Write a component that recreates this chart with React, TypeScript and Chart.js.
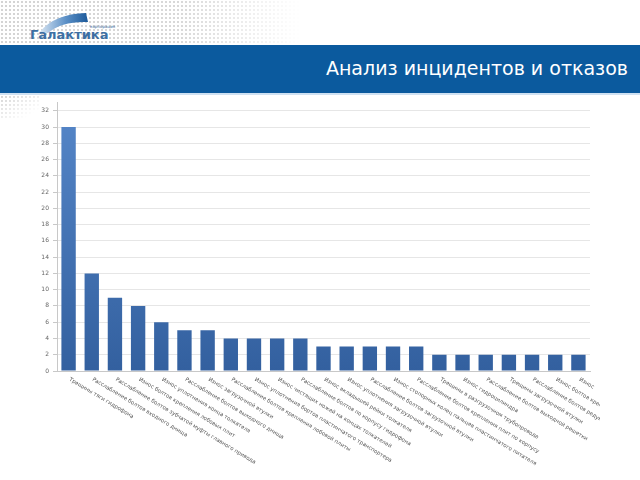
import React, { useEffect, useRef } from "react";
import { Chart, registerables } from "chart.js";

Chart.register(...registerables);

const TITLE = "Анализ инцидентов и отказов";

const categories: string[] = [
  "Трещины тяги гидрофона",
  "Расслабление болтов входного днища",
  "Расслабление болтов зубчатой муфты главного привода",
  "Износ болтов крепления лобовых плит",
  "Износ уплотнения конца толкателя",
  "Расслабление болтов выходного днища",
  "Износ загрузочной втулки",
  "Расслабление болтов крепления лобовой плиты",
  "Износ уплотнения бортов пластинчатого транспортера",
  "Износ чистящих ножей на концах толкателей",
  "Расслабление болтов по корпусу гидрофона",
  "Износ вкладышей рейки толкателя",
  "Износ уплотнения загрузочной втулки",
  "Расслабление болтов загрузочной втулки",
  "Износ стопорных колец пальцев пластинчатого питателя",
  "Расслабление болтов крепления плит по корпусу",
  "Трещины в разгрузочном трубопроводе",
  "Износ гидроцилиндра",
  "Расслабление болтов выходной решетки",
  "Трещины загрузочной втулки",
  "Расслабление болтов редуктора",
  "Износ болтов крепления",
  "Износ",
];

const incidents: number[] = [30, 12, 9, 8, 6, 5, 5, 4, 4, 4, 4, 3, 3, 3, 3, 3, 2, 2, 2, 2, 2, 2, 2];

const yTicks: number[] = [0, 2, 4, 6, 8, 10, 12, 14, 16, 18, 20, 22, 24, 26, 28, 30, 32];

const rotatedLabels = {
  id: "rotatedLabels",
  afterDraw(chart: any) {
    const ctx = chart.ctx;
    const xs = chart.scales.x;
    const area = chart.chartArea;
    ctx.save();
    ctx.beginPath();
    ctx.rect(0, 0, 600, chart.height);
    ctx.clip();
    ctx.font = "5.4px 'DejaVu Sans', sans-serif";
    ctx.fillStyle = "#555";
    ctx.textAlign = "left";
    ctx.textBaseline = "middle";
    categories.forEach((lab, i) => {
      const x = xs.getPixelForValue(i);
      ctx.save();
      ctx.translate(x + 1, area.bottom + 8);
      ctx.rotate((31 * Math.PI) / 180);
      ctx.fillText(lab, 0, 0);
      ctx.restore();
    });
    ctx.restore();
  },
};

function Logo() {
  return (
    <div style={{ position: "absolute", left: 28, top: 8, width: 100, height: 36 }}>
      <svg width="100" height="36" style={{ position: "absolute", left: 0, top: 0 }}>
        <defs>
          <linearGradient id="sw" x1="0" y1="0" x2="1" y2="0">
            <stop offset="0" stopColor="#d6e4f2" />
            <stop offset="0.55" stopColor="#5a8fc6" />
            <stop offset="1" stopColor="#1d5a9a" />
          </linearGradient>
        </defs>
        <path d="M12 24 Q 26 6 58 5 L 60 14 Q 34 13 20 25 Z" fill="url(#sw)" />
      </svg>
      <div
        style={{
          position: "absolute",
          left: 62,
          top: 16,
          fontSize: 4,
          color: "#3a6a9a",
          fontFamily: "'DejaVu Sans', sans-serif",
        }}
      >
        корпорация
      </div>
      <div
        style={{
          position: "absolute",
          left: 2,
          top: 19,
          fontSize: 13,
          fontWeight: "bold",
          color: "#3d6fa3",
          fontFamily: "'DejaVu Sans', sans-serif",
        }}
      >
        Галактика
      </div>
    </div>
  );
}

export default function App() {
  const ref = useRef<HTMLCanvasElement | null>(null);

  useEffect(() => {
    document.body.style.margin = "0";
    const canvas = ref.current!;
    const chart = new Chart(canvas, {
      type: "bar",
      data: {
        labels: categories,
        datasets: [
          {
            label: "Инциденты",
            data: incidents,
            backgroundColor: (c: any) => {
              const ca = c.chart.chartArea;
              if (!ca) return "#3f6fb0";
              const g = c.chart.ctx.createLinearGradient(0, ca.top, 0, ca.bottom);
              g.addColorStop(0, "#5687c9");
              g.addColorStop(1, "#33609f");
              return g;
            },
            borderWidth: 0,
            barPercentage: 0.62,
            categoryPercentage: 1,
          },
        ],
      },
      options: {
        animation: false,
        responsive: false,
        maintainAspectRatio: false,
        layout: { padding: { left: 8, right: 50, top: 6, bottom: 109 } },
        plugins: { legend: { display: false }, tooltip: { enabled: false } },
        scales: {
          x: {
            type: "category",
            grid: { display: false },
            border: { display: true, color: "#c8c8c8" },
            ticks: { display: false },
            afterFit: (s: any) => {
              s.height = 0;
            },
          },
          y: {
            min: 0,
            max: 33,
            afterBuildTicks: (s: any) => {
              s.ticks = yTicks.map((v) => ({ value: v }));
            },
            afterFit: (s: any) => {
              s.width = 49;
            },
            grid: { color: "#e6e6e6", tickLength: 4, tickColor: "#c8c8c8" },
            border: { display: true, color: "#c8c8c8" },
            ticks: {
              padding: 4,
              color: "#666",
              font: { size: 6, family: "'DejaVu Sans', sans-serif" },
            },
          },
        },
      },
      plugins: [rotatedLabels],
    });
    return () => chart.destroy();
  }, []);

  const dots = "radial-gradient(circle, #d4d4d4 1px, transparent 1.3px) 0 0 / 4px 4px";

  return (
    <div style={{ position: "absolute", left: 0, top: 0, width: 640, height: 480, background: "#fff", overflow: "hidden" }}>
      <div
        style={{
          position: "absolute",
          left: 0,
          top: 0,
          width: 300,
          height: 44,
          background: dots,
          WebkitMaskImage: "linear-gradient(to right, rgba(0,0,0,1) 0%, rgba(0,0,0,0.9) 60%, rgba(0,0,0,0) 100%)",
          maskImage: "linear-gradient(to right, rgba(0,0,0,1) 0%, rgba(0,0,0,0.9) 60%, rgba(0,0,0,0) 100%)",
        }}
      />
      <Logo />
      <div style={{ position: "absolute", left: 0, top: 45, width: 640, height: 48, background: "#0b5a9e" }}>
        <div
          style={{
            position: "absolute",
            right: 12,
            top: 12,
            color: "#fff",
            fontSize: 19,
            fontFamily: "'DejaVu Sans', sans-serif",
            whiteSpace: "nowrap",
          }}
        >
          {TITLE}
        </div>
      </div>
      <div style={{ position: "absolute", left: 0, top: 93, width: 640, height: 2, background: "#cfe1f2" }} />
      <div
        style={{
          position: "absolute",
          left: 0,
          top: 95,
          width: 40,
          height: 24,
          background: dots,
          WebkitMaskImage: "linear-gradient(to bottom right, #000 0%, transparent 80%)",
          maskImage: "linear-gradient(to bottom right, #000 0%, transparent 80%)",
        }}
      />
      <canvas ref={ref} width={640} height={385} style={{ position: "absolute", left: 0, top: 95, width: 640, height: 385 }} />
    </div>
  );
}
